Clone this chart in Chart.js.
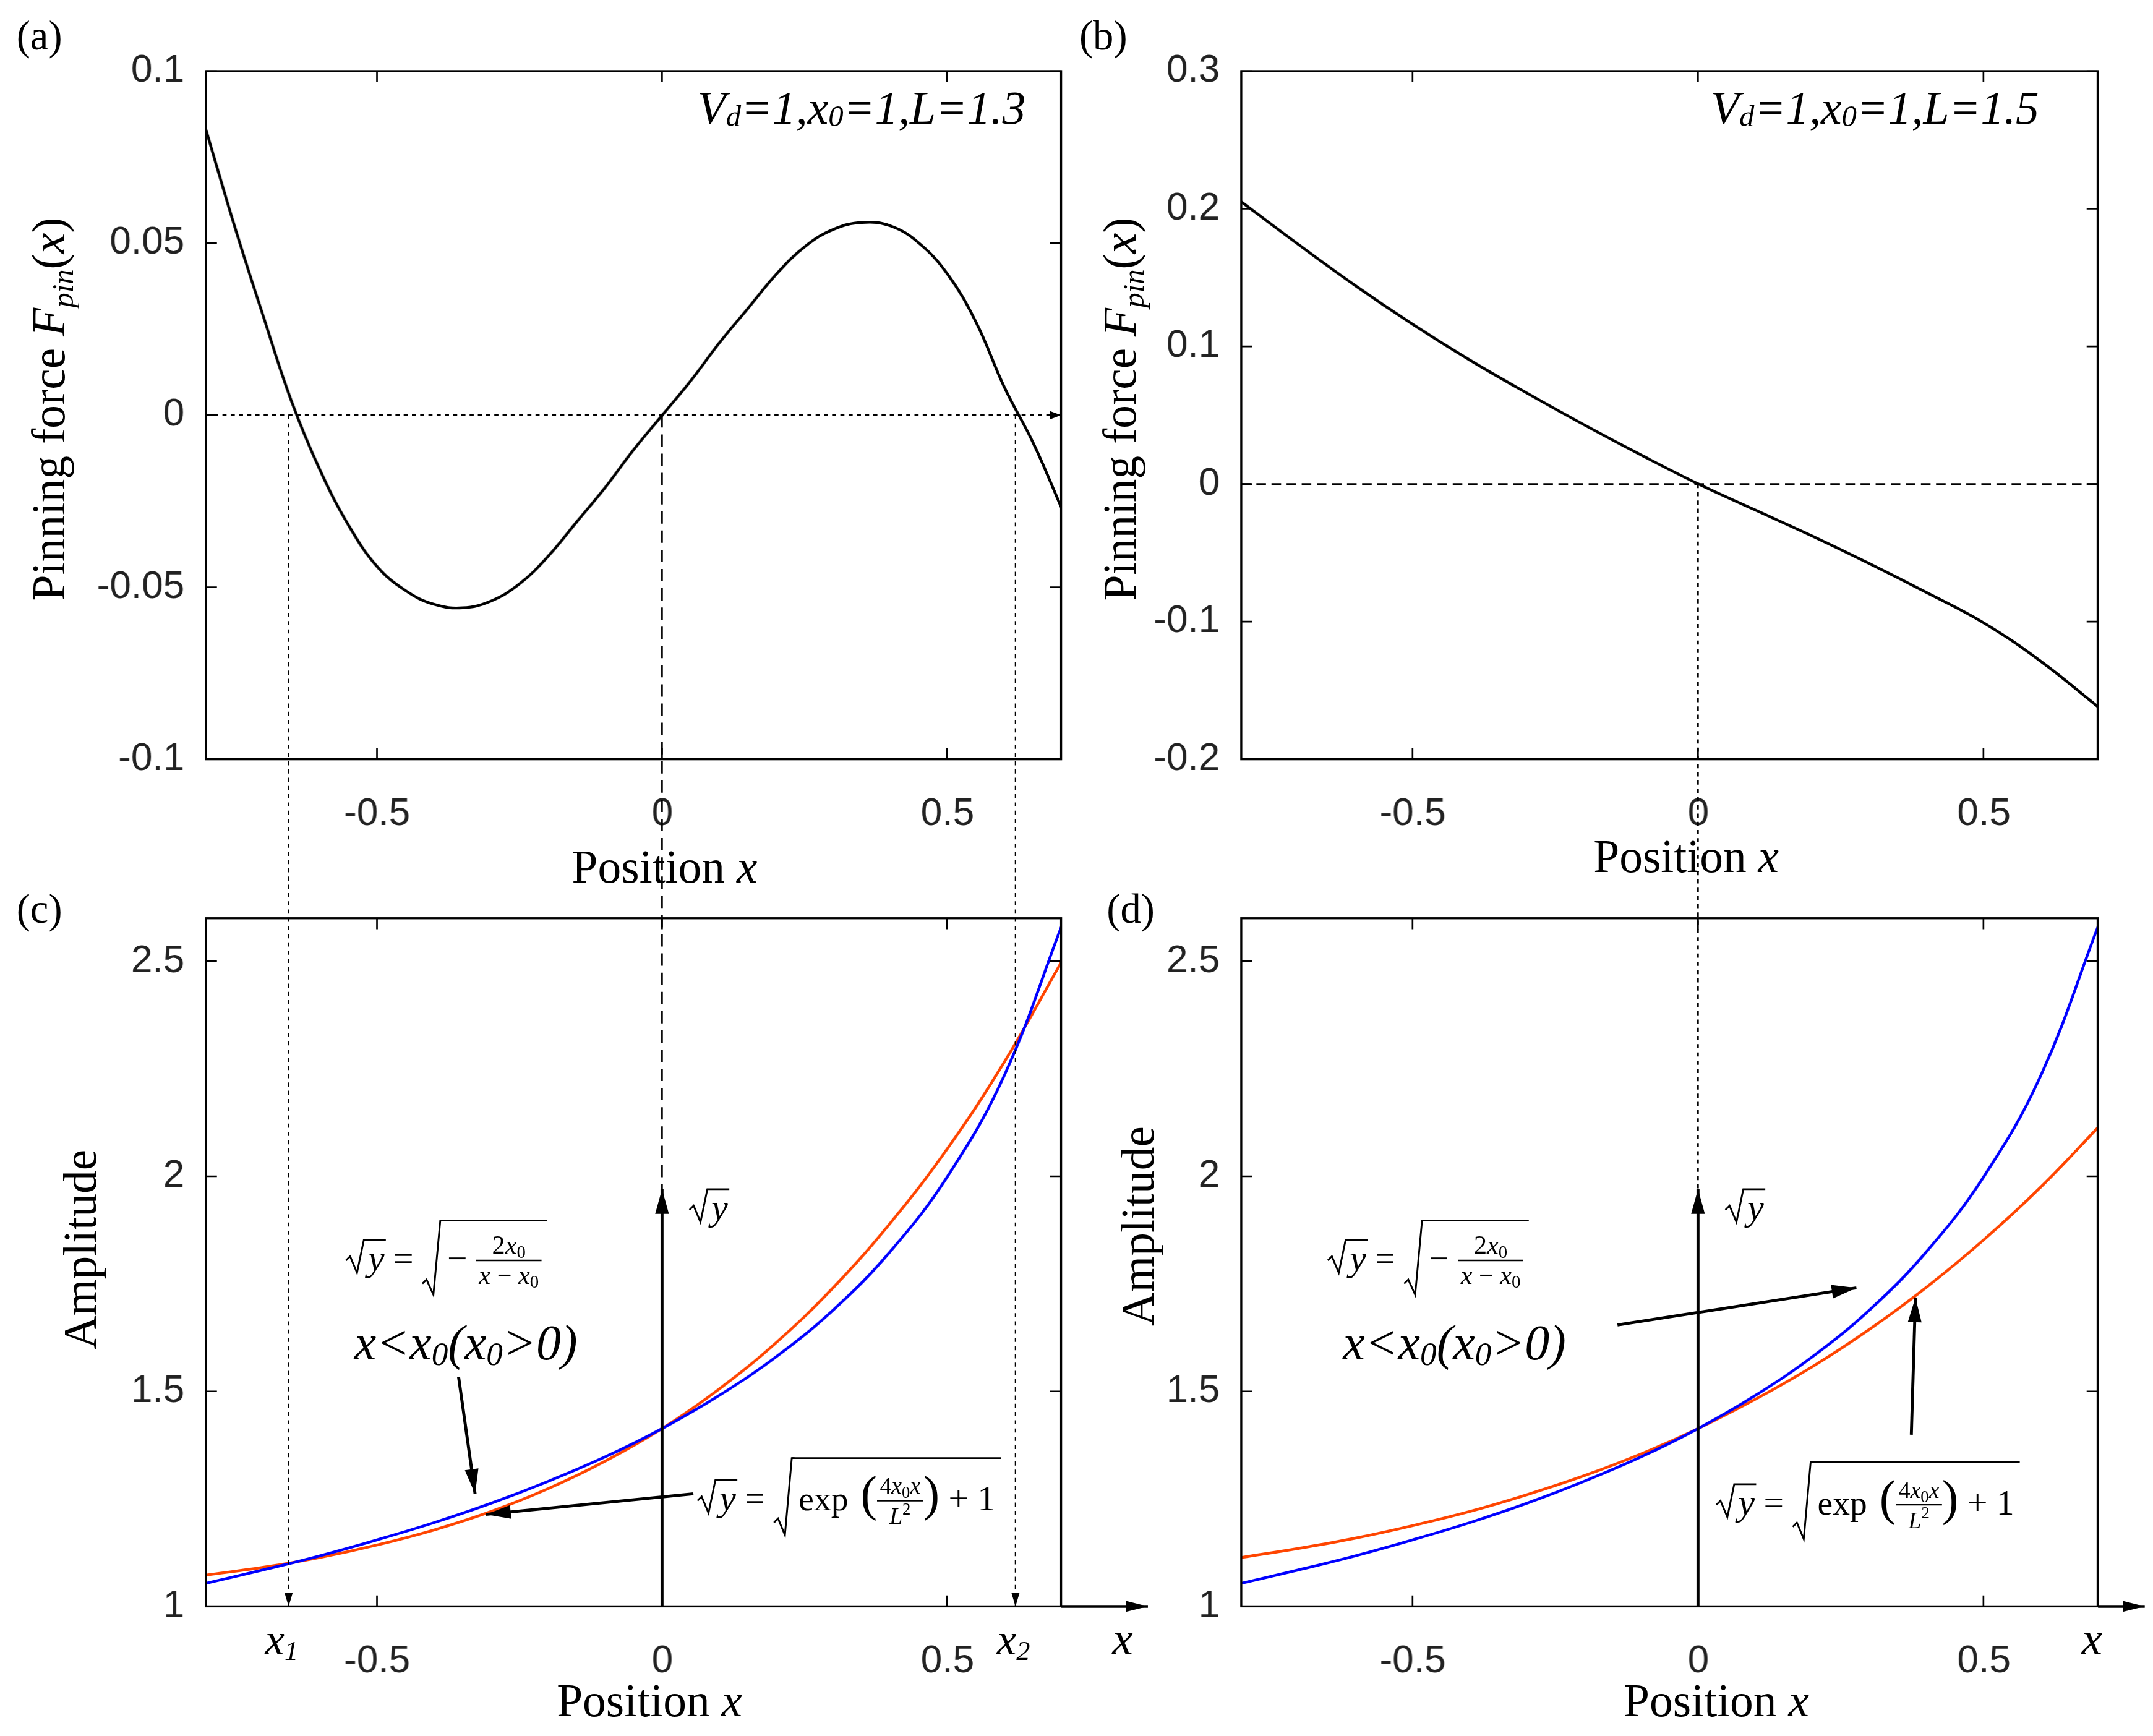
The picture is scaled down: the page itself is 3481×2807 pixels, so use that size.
<!DOCTYPE html>
<html><head><meta charset="utf-8">
<script src="https://cdn.jsdelivr.net/npm/chart.js@4/dist/chart.umd.min.js"></script>
<style>body{margin:0;background:#fff;width:3481px;height:2807px;position:relative;overflow:hidden}canvas{position:absolute}</style>
</head><body>
<script>
// ---------- data ----------
const xs = [-0.8,-0.7,-0.6,-0.5,-0.4,-0.3,-0.2,-0.1,0,0.1,0.2,0.3,0.4,0.5,0.6,0.7];
const xsFine = [-0.8,-0.75,-0.7,-0.65,-0.6,-0.55,-0.5,-0.45,-0.4,-0.35,-0.3,-0.25,-0.2,-0.15,-0.1,-0.05,0,0.05,0.1,0.15,0.2,0.25,0.3,0.35,0.4,0.45,0.5,0.55,0.6,0.65,0.7];
const forceA = [0.083,0.055,0.029,0.004,-0.016,-0.032,-0.044,-0.051,-0.055,-0.056,-0.054,-0.049,-0.041,-0.031,-0.021,-0.010,0,0.010,0.021,0.031,0.041,0.049,0.054,0.056,0.055,0.050,0.041,0.027,0.008,-0.008,-0.027];
const forceB = [0.205,0.174,0.144,0.116,0.090,0.066,0.043,0.021,0,-0.019,-0.038,-0.058,-0.079,-0.101,-0.129,-0.162];
const blueAmp = [1.054,1.085,1.118,1.155,1.195,1.240,1.291,1.348,1.414,1.491,1.581,1.690,1.826,2.000,2.236,2.582];
const orangeC = [1.073,1.091,1.114,1.143,1.178,1.221,1.274,1.338,1.414,1.506,1.614,1.742,1.892,2.065,2.267,2.499];
const orangeD = [1.114,1.135,1.159,1.188,1.221,1.260,1.304,1.355,1.414,1.482,1.558,1.645,1.743,1.853,1.976,2.114];
const xTicks = [-0.5,0,0.5];
const yTicksA = [-0.1,-0.05,0,0.05,0.1];
const yTicksB = [-0.2,-0.1,0,0.1,0.2,0.3];
const yTicksC = [1,1.5,2,2.5];
const x1 = -0.655, x2 = 0.62;

const S = 3481/1568;
Chart.defaults.font.family = '"Liberation Sans", Arial, sans-serif';
Chart.defaults.color = '#222';

function pts(x,y){return x.map((v,i)=>({x:v,y:y[i]}));}
const charts = {};
function mk(name, area, ymin, ymax, yTicks, datasets){
  const padL=140, padT=20, padR=30, padB=70;
  const cv = document.createElement('canvas');
  const left=(area.l-padL)*S, top=(area.t-padT)*S;
  const w=(area.r-area.l+padL+padR)*S, h=(area.b-area.t+padT+padB)*S;
  cv.style.left=left+'px'; cv.style.top=top+'px';
  cv.width=w; cv.height=h; cv.style.width=w+'px'; cv.style.height=h+'px';
  document.body.appendChild(cv);
  const ch = new Chart(cv,{type:'line',data:{datasets:datasets.map(d=>({data:d.data,borderColor:d.color,borderWidth:2*S,pointRadius:0,tension:0.4,fill:false}))},
    options:{responsive:false,animation:false,devicePixelRatio:1,
      plugins:{legend:{display:false},tooltip:{enabled:false}},
      layout:{padding:{top:(padT-7)*S,right:padR*S,left:0,bottom:0}},
      scales:{
        x:{type:'linear',min:-0.8,max:0.7,afterBuildTicks:s=>{s.ticks=xTicks.map(v=>({value:v}));},
           afterFit:s=>{s.height=padB*S;},grid:{display:false},border:{display:false},
           ticks:{font:{size:28*S},padding:20*S,maxRotation:0,callback:v=>String(v)}},
        y:{type:'linear',min:ymin,max:ymax,afterBuildTicks:s=>{s.ticks=yTicks.map(v=>({value:v}));},
           afterFit:s=>{s.width=padL*S;},grid:{display:false},border:{display:false},
           ticks:{font:{size:28*S},padding:12*S,callback:v=>String(v)}}
      }}});
  charts[name]={ch,left,top,yTicks};
  return ch;
}
mk('a',{l:150,t:43,r:773,b:553},-0.1,0.1,yTicksA,[{data:pts(xsFine,forceA),color:'#000'}]);
mk('b',{l:904,t:43,r:1528,b:553},-0.2,0.3,yTicksB,[{data:pts(xs,forceB),color:'#000'}]);
mk('c',{l:150,t:660,r:773,b:1170},1,2.6,yTicksC,[{data:pts(xs,blueAmp),color:'#0000ff'},{data:pts(xs,orangeC),color:'#ff4500'}]);
mk('d',{l:904,t:660,r:1528,b:1170},1,2.6,yTicksC,[{data:pts(xs,blueAmp),color:'#0000ff'},{data:pts(xs,orangeD),color:'#ff4500'}]);

// ---------- overlay ----------
const ov=document.createElement('canvas');ov.width=3481;ov.height=2807;ov.style.left='0';ov.style.top='0';
document.body.appendChild(ov);
const ctx=ov.getContext('2d');ctx.scale(S,S);
function P(n,x,y){const c=charts[n];return [(c.left+c.ch.scales.x.getPixelForValue(x))/S,(c.top+c.ch.scales.y.getPixelForValue(y))/S];}
ctx.strokeStyle='#000';ctx.fillStyle='#000';

for(const n of ['a','b','c','d']){
  const c=charts[n],a=c.ch.chartArea;
  const l=(c.left+a.left)/S,r=(c.left+a.right)/S,t=(c.top+a.top)/S,b=(c.top+a.bottom)/S;
  ctx.lineWidth=1.5;ctx.setLineDash([]);ctx.strokeRect(l,t,r-l,b-t);
  ctx.lineWidth=1.2;ctx.beginPath();
  for(const v of xTicks){const [px]=P(n,v,0);ctx.moveTo(px,b);ctx.lineTo(px,b-8);ctx.moveTo(px,t);ctx.lineTo(px,t+8);}
  for(const v of c.yTicks){const [,py]=P(n,0,v);ctx.moveTo(l,py);ctx.lineTo(l+8,py);ctx.moveTo(r,py);ctx.lineTo(r-8,py);}
  ctx.stroke();
}
function line(x0,y0,x1_,y1,dash,w){ctx.save();ctx.lineWidth=w||1.2;ctx.setLineDash(dash||[]);ctx.beginPath();ctx.moveTo(x0,y0);ctx.lineTo(x1_,y1);ctx.stroke();ctx.restore();}
function head(x0,y0,x1_,y1,len,wid){const an=Math.atan2(y1-y0,x1_-x0);len=len||14;wid=wid||4;
  ctx.save();ctx.setLineDash([]);ctx.beginPath();ctx.moveTo(x1_,y1);
  ctx.lineTo(x1_-len*Math.cos(an)+wid*Math.sin(an),y1-len*Math.sin(an)-wid*Math.cos(an));
  ctx.lineTo(x1_-len*Math.cos(an)-wid*Math.sin(an),y1-len*Math.sin(an)+wid*Math.cos(an));ctx.closePath();ctx.fill();ctx.restore();}
function arrow(x0,y0,x1_,y1,w,dash,len,wid){line(x0,y0,x1_,y1,dash,w);head(x0,y0,x1_,y1,len,wid);}

let p,q;
p=P('a',-0.8,0);q=P('a',0.7,0);line(p[0],p[1],q[0],q[1],[3,3]);head(q[0]-10,q[1],q[0],q[1],8,3);
p=P('b',-0.8,0);q=P('b',0.7,0);line(p[0],p[1],q[0],q[1],[7,4]);
for(const xv of [x1,x2]){p=P('a',xv,0);q=P('c',xv,1);arrow(p[0],p[1],q[0],q[1],1,[3,3],10,3);}
p=P('a',0,0);q=P('c',0,1.97);line(p[0],p[1],q[0],q[1],[9,5]);
p=P('b',0,0);q=P('d',0,1.97);line(p[0],p[1],q[0],q[1],[3,3]);
for(const n of ['c','d']){p=P(n,0,1);q=P(n,0,1.97);arrow(p[0],p[1],q[0],q[1],2.2,[],18,5);}
arrow(773,1170,836,1170,2,[],16,4);arrow(1528,1170,1562,1170,2,[],16,4);

const SER='"Liberation Serif","Times New Roman",serif';
function runs(x,y,parts,align){let w=0;for(const r of parts){ctx.font=r.f;w+=ctx.measureText(r.t).width;}
  let cx=align==='center'?x-w/2:align==='right'?x-w:x;
  for(const r of parts){ctx.font=r.f;ctx.fillText(r.t,cx,y+(r.dy||0));cx+=ctx.measureText(r.t).width;}return cx;}
ctx.textBaseline='alphabetic';
const N=s=>`${s}px ${SER}`, I=s=>`italic ${s}px ${SER}`;
runs(12,36,[{t:'(a)',f:N(30)}]);runs(786,36,[{t:'(b)',f:N(30)}]);
runs(12,672,[{t:'(c)',f:N(30)}]);runs(806,672,[{t:'(d)',f:N(30)}]);
function vd(xr,y,L){runs(xr,y,[{t:'V',f:I(34)},{t:'d',f:I(22),dy:2},{t:'=1,x',f:I(34)},{t:'0',f:I(22),dy:2},{t:'=1,L='+L,f:I(34)}],'right');}
vd(747,90,'1.3');vd(1485,90,'1.5');
runs(484,643,[{t:'Position ',f:N(34)},{t:'x',f:I(34)}],'center');
runs(1228,635,[{t:'Position ',f:N(34)},{t:'x',f:I(34)}],'center');
runs(473,1250,[{t:'Position ',f:N(34)},{t:'x',f:I(34)}],'center');
runs(1250,1250,[{t:'Position ',f:N(34)},{t:'x',f:I(34)}],'center');
function ytitle(x,y,parts){ctx.save();ctx.translate(x,y);ctx.rotate(-Math.PI/2);runs(0,0,parts,'center');ctx.restore();}
const pin=[{t:'Pinning force ',f:N(34)},{t:'F',f:I(34)},{t:'pin',f:I(22),dy:6},{t:'(',f:N(34)},{t:'x',f:I(34)},{t:')',f:N(34)}];
ytitle(47,298,pin);ytitle(827,298,pin);
ytitle(70,910,[{t:'Amplitude',f:N(34)}]);ytitle(840,893,[{t:'Amplitude',f:N(34)}]);
runs(810,1205,[{t:'x',f:I(34)}]);runs(1516,1205,[{t:'x',f:I(34)}]);
runs(193,1205,[{t:'x',f:I(32)},{t:'1',f:I(20),dy:4}]);runs(726,1205,[{t:'x',f:I(32)},{t:'2',f:I(20),dy:4}]);
function cond(x,y){runs(x,y,[{t:'x<x',f:I(36)},{t:'0',f:I(24),dy:4},{t:'(x',f:I(36)},{t:'0',f:I(24),dy:4},{t:'>0)',f:I(36)}]);}
cond(258,990);cond(978,990);
function rad(x,y,w,up,down){ctx.save();ctx.lineWidth=1.3;ctx.setLineDash([]);ctx.beginPath();
  ctx.moveTo(x,y-0.45*(up-down)+down);ctx.lineTo(x+3,y-0.5*(up-down)+down-2);ctx.lineTo(x+8,y+down);ctx.lineTo(x+13,y-up);ctx.lineTo(x+15+w,y-up);ctx.stroke();ctx.restore();return x+15;}
function sqrty(x,y,eq){const cx=rad(x,y,14,22,2);return runs(cx+1,y,eq?[{t:'y',f:I(27)},{t:' = ',f:N(26)}]:[{t:'y',f:I(27)}]);}
function frac(x,ybar,num,den){let wn=0,wd=0;for(const r of num){ctx.font=r.f;wn+=ctx.measureText(r.t).width;}for(const r of den){ctx.font=r.f;wd+=ctx.measureText(r.t).width;}
  const w=Math.max(wn,wd)+4;runs(x+w/2,ybar-5,num,'center');runs(x+w/2,ybar+17,den,'center');line(x,ybar,x+w,ybar,[],1.1);return x+w;}
function blueF(x,y){let cx=sqrty(x,y,true);const x0=cx;cx=rad(cx,y,0,36,18)+3;
  cx=runs(cx,y,[{t:'− ',f:N(26)}]);
  const e=frac(cx,y-7,[{t:'2',f:N(19)},{t:'x',f:I(19)},{t:'0',f:N(13),dy:3}],[{t:'x',f:I(19)},{t:' − ',f:N(19)},{t:'x',f:I(19)},{t:'0',f:N(13),dy:3}]);
  line(x0+13,y-36,e+4,y-36,[],1.3);}
function orangeF(x,y){let cx=sqrty(x,y,true);const x0=cx;cx=rad(cx,y,0,38,18)+3;
  cx=runs(cx,y,[{t:'exp',f:N(25)},{t:' (',f:N(36)}]);
  cx=frac(cx,y-7,[{t:'4',f:N(17)},{t:'x',f:I(17)},{t:'0',f:N(12),dy:3},{t:'x',f:I(17)}],[{t:'L',f:I(17)},{t:'2',f:N(12),dy:-7}]);
  cx=runs(cx,y,[{t:')',f:N(36)},{t:' + 1',f:N(26)}]);
  line(x0+13,y-38,cx+4,y-38,[],1.3);}
blueF(252,925);blueF(967,925);orangeF(508,1100);orangeF(1250,1103);
arrow(334,1003,346,1088,2.2,[],18,5);arrow(505,1088,354,1103,2.2,[],18,5);
arrow(1178,965,1352,938,2.2,[],18,5);arrow(1392,1045,1395,945,2.2,[],18,5);
for(const n of ['c','d']){p=P(n,0,1.97);sqrty(p[0]+20,p[1]+22,false);}
</script>
</body></html>
